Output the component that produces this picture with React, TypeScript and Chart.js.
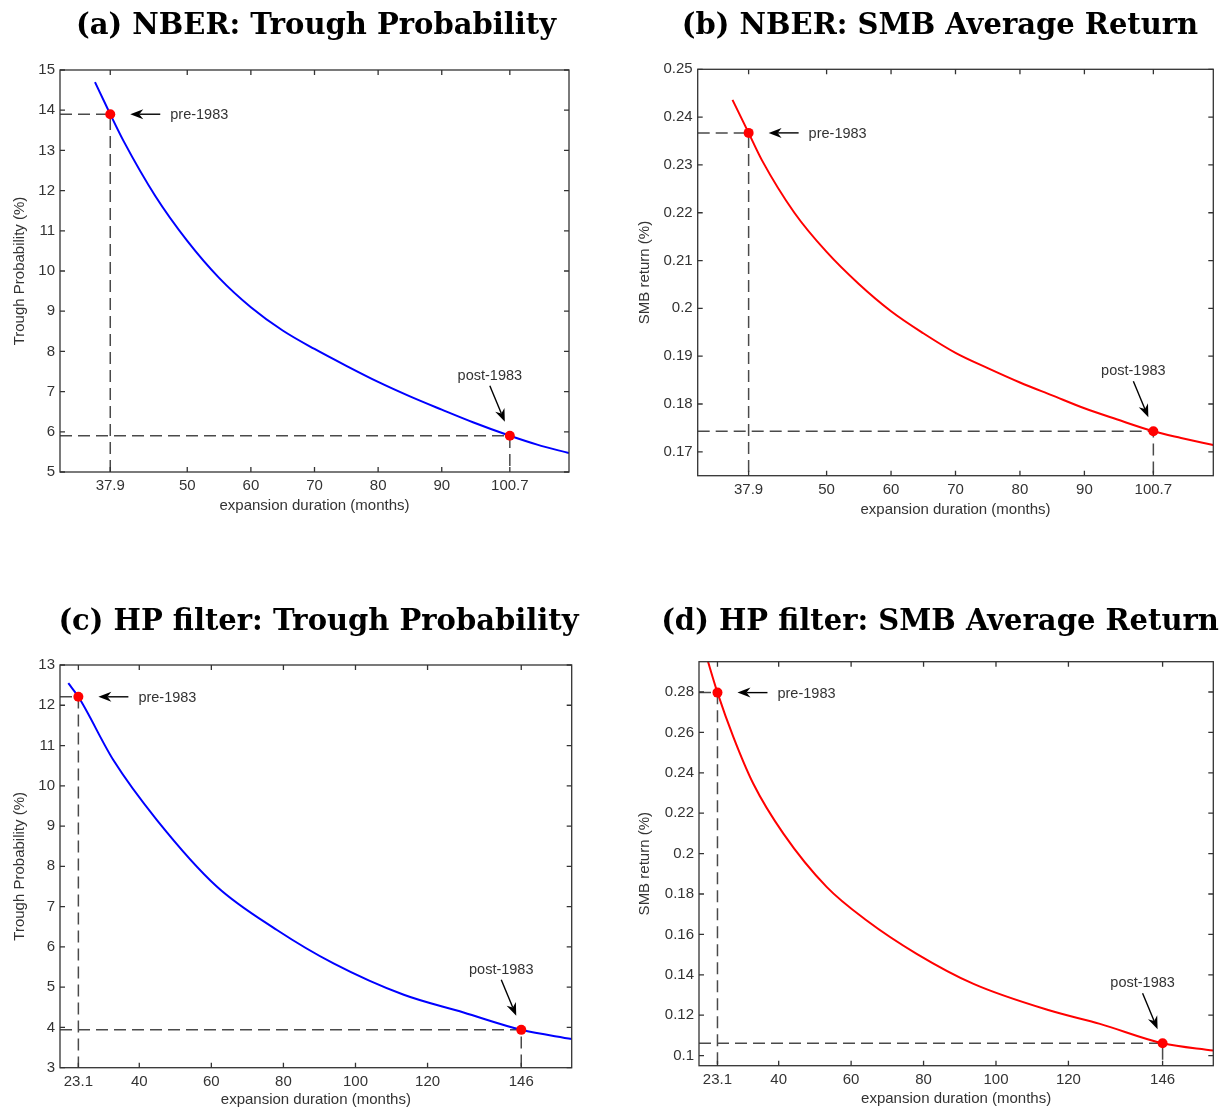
import React, { useEffect, useRef } from "react";
import { Chart, registerables } from "chart.js";

Chart.register(...registerables);

// ---------- Panel (a): NBER trough probability ----------
const aX = [35.5, 37.9, 40, 45, 50, 55, 60, 65, 70, 75, 80, 85, 90, 95, 100.7, 105, 110];
const aY = [14.7, 13.9, 13.23, 11.86, 10.75, 9.83, 9.1, 8.52, 8.06, 7.64, 7.24, 6.88, 6.55, 6.23, 5.9, 5.68, 5.47];
const aXTicks = [37.9, 50, 60, 70, 80, 90, 100.7];
const aYTicks = [5, 6, 7, 8, 9, 10, 11, 12, 13, 14, 15];
const aXRange = [30, 110];
const aYRange = [5, 15];
const aPre = [37.9, 13.9];
const aPost = [100.7, 5.9];

// ---------- Panel (b): NBER SMB average return ----------
const bX = [35.4, 37.9, 40, 45, 50, 55, 60, 65, 70, 75, 80, 85, 90, 95, 100.7, 105, 110];
const bY = [0.2436, 0.2367, 0.2309, 0.22, 0.2118, 0.2051, 0.1994, 0.1948, 0.1907, 0.1875, 0.1845, 0.1818, 0.1791, 0.1768, 0.1743, 0.1729, 0.1714];
const bXTicks = [37.9, 50, 60, 70, 80, 90, 100.7];
const bYTicks = [0.17, 0.18, 0.19, 0.2, 0.21, 0.22, 0.23, 0.24, 0.25];
const bXRange = [30, 110];
const bYRange = [0.165, 0.25];
const bPre = [37.9, 0.2367];
const bPost = [100.7, 0.1743];

// ---------- Panel (c): HP filter trough probability ----------
const cX = [20.3, 23.1, 32.8, 44.9, 61.5, 78.2, 93.9, 113.4, 130, 146, 160];
const cY = [12.55, 12.21, 10.64, 9.15, 7.5, 6.42, 5.59, 4.81, 4.37, 3.94, 3.71];
const cXTicks = [23.1, 40, 60, 80, 100, 120, 146];
const cYTicks = [3, 4, 5, 6, 7, 8, 9, 10, 11, 12, 13];
const cXRange = [18, 160];
const cYRange = [3, 13];
const cPre = [23.1, 12.21];
const cPost = [146, 3.94];

// ---------- Panel (d): HP filter SMB average return ----------
const dX = [20, 23.1, 27.5, 33, 41.3, 53.3, 64.3, 78.1, 93.8, 114.9, 128.7, 146, 160];
const dY = [0.298, 0.2797, 0.2577, 0.2346, 0.2099, 0.1834, 0.1669, 0.1504, 0.1355, 0.1223, 0.1157, 0.1061, 0.1025];
const dXTicks = [23.1, 40, 60, 80, 100, 120, 146];
const dYTicks = [0.1, 0.12, 0.14, 0.16, 0.18, 0.2, 0.22, 0.24, 0.26, 0.28];
const dXRange = [18, 160];
const dYRange = [0.095, 0.295];
const dPre = [23.1, 0.2797];
const dPost = [146, 0.1061];

const titles = [
  "(a) NBER: Trough Probability",
  "(b) NBER: SMB Average Return",
  "(c) HP filter: Trough Probability",
  "(d) HP filter: SMB Average Return",
];
const xLabel = "expansion duration (months)";
const yLabels = ["Trough Probability (%)", "SMB return (%)", "Trough Probability (%)", "SMB return (%)"];
const preLabel = "pre-1983";
const postLabel = "post-1983";

type Panel = {
  xs: number[]; ys: number[]; color: string;
  xTicks: number[]; yTicks: number[];
  xRange: number[]; yRange: number[];
  pre: number[]; post: number[];
  yLabel: string;
  left: number; top: number; width: number; height: number;
  pad: { top: number; right: number; bottom: number; left: number };
  yW: number; xH: number; yTitlePad: number; xTitlePad: number;
};

const panels: Panel[] = [
  {
    xs: aX, ys: aY, color: "#0000ff", xTicks: aXTicks, yTicks: aYTicks, xRange: aXRange, yRange: aYRange,
    pre: aPre, post: aPost, yLabel: yLabels[0],
    left: 0, top: 0, width: 600, height: 517, pad: { top: 70, right: 31, bottom: 0, left: 0 },
    yW: 60, xH: 45, yTitlePad: 11, xTitlePad: 2,
  },
  {
    xs: bX, ys: bY, color: "#ff0000", xTicks: bXTicks, yTicks: bYTicks, xRange: bXRange, yRange: bYRange,
    pre: bPre, post: bPost, yLabel: yLabels[1],
    left: 630, top: 0, width: 601, height: 521, pad: { top: 69.3, right: 17.7, bottom: 0, left: 0 },
    yW: 67.7, xH: 45.3, yTitlePad: 6, xTitlePad: 2,
  },
  {
    xs: cX, ys: cY, color: "#0000ff", xTicks: cXTicks, yTicks: cYTicks, xRange: cXRange, yRange: cYRange,
    pre: cPre, post: cPost, yLabel: yLabels[2],
    left: 0, top: 590, width: 600, height: 523, pad: { top: 75, right: 28.3, bottom: 0, left: 0 },
    yW: 60, xH: 45.3, yTitlePad: 11, xTitlePad: 4,
  },
  {
    xs: dX, ys: dY, color: "#ff0000", xTicks: dXTicks, yTicks: dYTicks, xRange: dXRange, yRange: dYRange,
    pre: dPre, post: dPost, yLabel: yLabels[3],
    left: 630, top: 590, width: 601, height: 523, pad: { top: 71.7, right: 17.7, bottom: 0, left: 0 },
    yW: 69, xH: 47.3, yTitlePad: 6, xTitlePad: 5,
  },
];

const titlePos = [
  { cx: 316, cy: 24 },
  { cx: 940, cy: 24 },
  { cx: 318.5, cy: 620 },
  { cx: 940, cy: 620 },
];

const SANS = "'Liberation Sans', Arial, sans-serif";
const TEXT = "#333333";

function fmt(v: number) {
  return String(Number(Number(v).toFixed(4)));
}

function drawArrow(ctx: CanvasRenderingContext2D, x0: number, y0: number, x1: number, y1: number) {
  const dx = x1 - x0, dy = y1 - y0;
  const len = Math.hypot(dx, dy);
  const ux = dx / len, uy = dy / len;
  const nx = -uy, ny = ux;
  const L = 13, W = 5, N = 4;
  ctx.beginPath();
  ctx.moveTo(x0, y0);
  ctx.lineTo(x1 - ux * (L - N), y1 - uy * (L - N));
  ctx.stroke();
  ctx.beginPath();
  ctx.moveTo(x1, y1);
  ctx.lineTo(x1 - ux * L + nx * W, y1 - uy * L + ny * W);
  ctx.lineTo(x1 - ux * (L - N), y1 - uy * (L - N));
  ctx.lineTo(x1 - ux * L - nx * W, y1 - uy * L - ny * W);
  ctx.closePath();
  ctx.fill();
}

function makeOverlay(p: Panel) {
  return {
    id: "matlabOverlay",
    afterDraw(chart: any) {
      const { ctx, chartArea: a, scales } = chart;
      const xs = scales.x, ys = scales.y;
      ctx.save();
      ctx.strokeStyle = "#333333";
      ctx.lineWidth = 1.3;
      ctx.strokeRect(a.left, a.top, a.right - a.left, a.bottom - a.top);
      const tl = 5;
      ctx.beginPath();
      for (const t of xs.ticks) {
        const px = xs.getPixelForValue(t.value);
        ctx.moveTo(px, a.bottom); ctx.lineTo(px, a.bottom - tl);
        ctx.moveTo(px, a.top); ctx.lineTo(px, a.top + tl);
      }
      for (const t of ys.ticks) {
        const py = ys.getPixelForValue(t.value);
        ctx.moveTo(a.left, py); ctx.lineTo(a.left + tl, py);
        ctx.moveTo(a.right, py); ctx.lineTo(a.right - tl, py);
      }
      ctx.stroke();
      ctx.strokeStyle = "#000000";
      ctx.fillStyle = "#000000";
      ctx.lineWidth = 1.4;
      const prx = xs.getPixelForValue(p.pre[0]);
      const pry = ys.getPixelForValue(p.pre[1]);
      drawArrow(ctx, prx + 50, pry, prx + 20, pry);
      const pox = xs.getPixelForValue(p.post[0]);
      const poy = ys.getPixelForValue(p.post[1]);
      drawArrow(ctx, pox - 20, poy - 50, pox - 5, poy - 14);
      ctx.fillStyle = TEXT;
      ctx.font = `14.5px ${SANS}`;
      ctx.textBaseline = "middle";
      ctx.textAlign = "left";
      ctx.fillText(preLabel, prx + 60, pry + 1);
      ctx.textAlign = "center";
      ctx.fillText(postLabel, pox - 20, poy - 60);
      ctx.restore();
    },
  };
}

function ChartPanel({ p }: { p: Panel }) {
  const ref = useRef<HTMLCanvasElement>(null);
  useEffect(() => {
    if (!ref.current) return;
    const curve = p.xs.map((x, i) => ({ x, y: p.ys[i] }));
    const xMin = p.xRange[0], yMin = p.yRange[0];
    const preGuide = [
      { x: xMin, y: p.pre[1] },
      { x: p.pre[0], y: p.pre[1] },
      { x: p.pre[0], y: yMin },
    ];
    const postGuide = [
      { x: xMin, y: p.post[1] },
      { x: p.post[0], y: p.post[1] },
      { x: p.post[0], y: yMin },
    ];
    const guideStyle = {
      type: "line" as const,
      borderColor: "#4a4a4a",
      borderWidth: 1.5,
      borderDash: [12, 6],
      pointRadius: 0,
      tension: 0,
      order: 3,
    };
    const tickFont = { family: SANS, size: 15 };
    const chart = new Chart(ref.current, {
      type: "line",
      data: {
        datasets: [
          {
            type: "scatter" as any,
            data: [
              { x: p.pre[0], y: p.pre[1] },
              { x: p.post[0], y: p.post[1] },
            ],
            pointRadius: 5,
            pointBackgroundColor: "#ff0000",
            pointBorderColor: "#ff0000",
            pointBorderWidth: 0,
            showLine: false,
            order: 0,
          } as any,
          {
            data: curve,
            borderColor: p.color,
            borderWidth: 2,
            pointRadius: 0,
            cubicInterpolationMode: "monotone",
            order: 1,
          } as any,
          { ...guideStyle, data: preGuide } as any,
          { ...guideStyle, data: postGuide } as any,
        ],
      },
      options: {
        responsive: false,
        animation: false,
        devicePixelRatio: 1,
        layout: { padding: p.pad },
        plugins: {
          legend: { display: false },
          tooltip: { enabled: false },
          title: { display: false },
        },
        scales: {
          x: {
            type: "linear",
            min: p.xRange[0],
            max: p.xRange[1],
            bounds: "data",
            grid: { display: false, drawTicks: false },
            border: { display: false },
            afterBuildTicks: (s: any) => {
              s.ticks = p.xTicks.map((v) => ({ value: v }));
            },
            afterFit: (s: any) => {
              s.height = p.xH;
            },
            ticks: {
              autoSkip: false,
              maxRotation: 0,
              padding: 5,
              color: TEXT,
              font: tickFont,
              callback: (v: any) => fmt(v),
            },
            title: {
              display: true,
              text: xLabel,
              color: TEXT,
              font: tickFont,
              padding: { top: 0, bottom: p.xTitlePad },
            },
          },
          y: {
            type: "linear",
            min: p.yRange[0],
            max: p.yRange[1],
            bounds: "data",
            grid: { display: false, drawTicks: false },
            border: { display: false },
            afterBuildTicks: (s: any) => {
              s.ticks = p.yTicks.map((v) => ({ value: v }));
            },
            afterFit: (s: any) => {
              s.width = p.yW;
            },
            ticks: {
              autoSkip: false,
              padding: 5,
              color: TEXT,
              font: tickFont,
              callback: (v: any) => fmt(v),
            },
            title: {
              display: true,
              text: p.yLabel,
              color: TEXT,
              font: tickFont,
              padding: { top: p.yTitlePad, bottom: 0 },
            },
          },
        },
      } as any,
      plugins: [makeOverlay(p)],
    });
    return () => chart.destroy();
  }, [p]);
  return (
    <canvas
      ref={ref}
      width={p.width}
      height={p.height}
      style={{ position: "absolute", left: p.left, top: p.top, width: p.width, height: p.height }}
    />
  );
}

export default function App() {
  return (
    <div style={{ position: "absolute", left: 0, top: 0, width: 1231, height: 1113, background: "#ffffff", overflow: "hidden" }}>
      {panels.map((p, i) => (
        <ChartPanel key={i} p={p} />
      ))}
      {titles.map((t, i) => (
        <div
          key={"t" + i}
          style={{
            position: "absolute",
            left: titlePos[i].cx - 320,
            top: titlePos[i].cy - 18,
            width: 640,
            height: 36,
            lineHeight: "36px",
            textAlign: "center",
            fontFamily: "'DejaVu Serif', serif",
            fontWeight: "bold",
            fontSize: 29,
            color: "#000",
            whiteSpace: "nowrap",
          }}
        >
          {t}
        </div>
      ))}
    </div>
  );
}
